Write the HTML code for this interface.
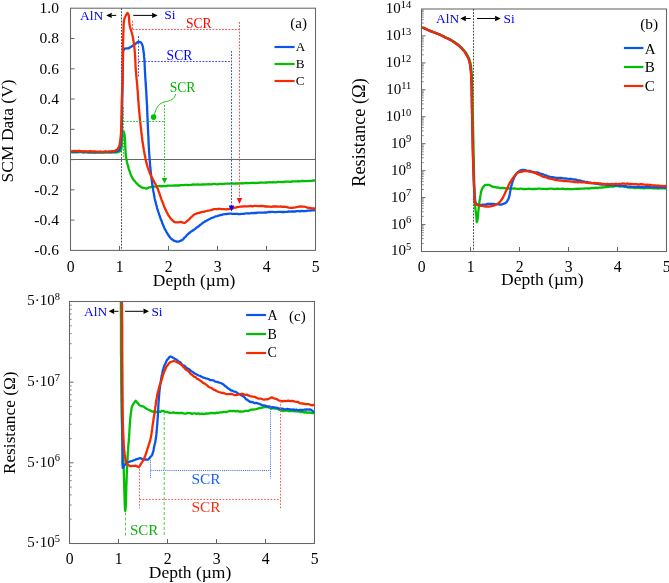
<!DOCTYPE html>
<html><head><meta charset="utf-8"><style>
html,body{margin:0;padding:0;background:#fff;}
svg{display:block;}
text{font-family:"Liberation Serif", serif;}
.g{will-change:transform;}
</style></head><body>
<svg width="669" height="583" viewBox="0 0 669 583">
<rect width="669" height="583" fill="#fff"/>
<g class="g">
<rect x="70.5" y="8.2" width="245.0" height="242.2" fill="none" stroke="#666666" stroke-width="1.05"/>
<text x="70.7" y="271.5" font-size="15.7" fill="#000" text-anchor="middle" >0</text>
<line x1="119.5" y1="250.4" x2="119.5" y2="245.9" stroke="#666666" stroke-width="1.0"/>
<text x="119.7" y="271.5" font-size="15.7" fill="#000" text-anchor="middle" >1</text>
<line x1="168.5" y1="250.4" x2="168.5" y2="245.9" stroke="#666666" stroke-width="1.0"/>
<text x="168.7" y="271.5" font-size="15.7" fill="#000" text-anchor="middle" >2</text>
<line x1="217.5" y1="250.4" x2="217.5" y2="245.9" stroke="#666666" stroke-width="1.0"/>
<text x="217.7" y="271.5" font-size="15.7" fill="#000" text-anchor="middle" >3</text>
<line x1="266.5" y1="250.4" x2="266.5" y2="245.9" stroke="#666666" stroke-width="1.0"/>
<text x="266.7" y="271.5" font-size="15.7" fill="#000" text-anchor="middle" >4</text>
<text x="315.7" y="271.5" font-size="15.7" fill="#000" text-anchor="middle" >5</text>
<text x="58.9" y="13.0" font-size="15.5" fill="#000" text-anchor="end" >1.0</text>
<line x1="70.5" y1="38.5" x2="74.5" y2="38.5" stroke="#666666" stroke-width="1.0"/>
<text x="58.9" y="43.3" font-size="15.5" fill="#000" text-anchor="end" >0.8</text>
<line x1="70.5" y1="68.8" x2="74.5" y2="68.8" stroke="#666666" stroke-width="1.0"/>
<text x="58.9" y="73.5" font-size="15.5" fill="#000" text-anchor="end" >0.6</text>
<line x1="70.5" y1="99.0" x2="74.5" y2="99.0" stroke="#666666" stroke-width="1.0"/>
<text x="58.9" y="103.8" font-size="15.5" fill="#000" text-anchor="end" >0.4</text>
<line x1="70.5" y1="129.3" x2="74.5" y2="129.3" stroke="#666666" stroke-width="1.0"/>
<text x="58.9" y="134.1" font-size="15.5" fill="#000" text-anchor="end" >0.2</text>
<line x1="70.5" y1="159.6" x2="74.5" y2="159.6" stroke="#666666" stroke-width="1.0"/>
<text x="58.9" y="164.4" font-size="15.5" fill="#000" text-anchor="end" >0.0</text>
<line x1="70.5" y1="189.8" x2="74.5" y2="189.8" stroke="#666666" stroke-width="1.0"/>
<text x="58.9" y="194.6" font-size="15.5" fill="#000" text-anchor="end" >-0.2</text>
<line x1="70.5" y1="220.1" x2="74.5" y2="220.1" stroke="#666666" stroke-width="1.0"/>
<text x="58.9" y="224.9" font-size="15.5" fill="#000" text-anchor="end" >-0.4</text>
<text x="58.9" y="255.2" font-size="15.5" fill="#000" text-anchor="end" >-0.6</text>
<line x1="70.5" y1="159.5" x2="315.5" y2="159.5" stroke="#666666" stroke-width="1.1"/>
<line x1="121.5" y1="8.2" x2="121.5" y2="250.4" stroke="#4a4a4a" stroke-width="1.0" stroke-dasharray="1.8 1.3"/>
<text x="194.1" y="286.0" font-size="17.5" fill="#000" text-anchor="middle" >Depth (µm)</text>
<text x="0.0" y="0.0" font-size="17.5" fill="#000" text-anchor="middle" transform="translate(12.9,130.9) rotate(-90)">SCM Data (V)</text>
<text x="80.0" y="19.5" font-size="13.5" fill="#0000ff" text-anchor="start" >AlN</text>
<line x1="116.2" y1="15.4" x2="111.7" y2="15.4" stroke="#000" stroke-width="1.0"/>
<polygon points="106.2,15.4 111.7,12.7 111.7,18.1" fill="#000"/>
<line x1="133.3" y1="15.4" x2="152.1" y2="15.4" stroke="#000" stroke-width="1.0"/>
<polygon points="157.6,15.4 152.1,12.7 152.1,18.1" fill="#000"/>
<text x="164.2" y="19.3" font-size="13.5" fill="#0000ff" text-anchor="start" >Si</text>
<text x="307.0" y="28.4" font-size="15" fill="#000" text-anchor="end" >(a)</text>
<line x1="274.5" y1="47.0" x2="294.6" y2="47.0" stroke="#0a55ea" stroke-width="2.2"/>
<text x="295.8" y="51.0" font-size="13.2" fill="#000" text-anchor="start" >A</text>
<line x1="274.5" y1="64.0" x2="294.6" y2="64.0" stroke="#00bf00" stroke-width="2.2"/>
<text x="295.8" y="68.1" font-size="13.2" fill="#000" text-anchor="start" >B</text>
<line x1="274.5" y1="81.0" x2="294.6" y2="81.0" stroke="#f42a00" stroke-width="2.2"/>
<text x="295.8" y="85.3" font-size="13.2" fill="#000" text-anchor="start" >C</text>
<rect x="421.5" y="9.0" width="245.0" height="242.5" fill="none" stroke="#666666" stroke-width="1.05"/>
<text x="421.7" y="271.5" font-size="15.7" fill="#000" text-anchor="middle" >0</text>
<line x1="470.5" y1="251.5" x2="470.5" y2="247.0" stroke="#666666" stroke-width="1.0"/>
<text x="470.7" y="271.5" font-size="15.7" fill="#000" text-anchor="middle" >1</text>
<line x1="519.5" y1="251.5" x2="519.5" y2="247.0" stroke="#666666" stroke-width="1.0"/>
<text x="519.7" y="271.5" font-size="15.7" fill="#000" text-anchor="middle" >2</text>
<line x1="568.5" y1="251.5" x2="568.5" y2="247.0" stroke="#666666" stroke-width="1.0"/>
<text x="568.7" y="271.5" font-size="15.7" fill="#000" text-anchor="middle" >3</text>
<line x1="617.5" y1="251.5" x2="617.5" y2="247.0" stroke="#666666" stroke-width="1.0"/>
<text x="617.7" y="271.5" font-size="15.7" fill="#000" text-anchor="middle" >4</text>
<text x="666.7" y="271.5" font-size="15.7" fill="#000" text-anchor="middle" >5</text>
<line x1="421.5" y1="243.4" x2="423.7" y2="243.4" stroke="#666666" stroke-width="0.8"/>
<line x1="421.5" y1="238.6" x2="423.7" y2="238.6" stroke="#666666" stroke-width="0.8"/>
<line x1="421.5" y1="235.3" x2="423.7" y2="235.3" stroke="#666666" stroke-width="0.8"/>
<line x1="421.5" y1="232.7" x2="423.7" y2="232.7" stroke="#666666" stroke-width="0.8"/>
<line x1="421.5" y1="230.5" x2="423.7" y2="230.5" stroke="#666666" stroke-width="0.8"/>
<line x1="421.5" y1="228.7" x2="423.7" y2="228.7" stroke="#666666" stroke-width="0.8"/>
<line x1="421.5" y1="227.2" x2="423.7" y2="227.2" stroke="#666666" stroke-width="0.8"/>
<line x1="421.5" y1="225.8" x2="423.7" y2="225.8" stroke="#666666" stroke-width="0.8"/>
<text x="411.3" y="255.4" font-size="15" text-anchor="end">10<tspan dy="-5.2" font-size="10.5">5</tspan></text>
<line x1="421.5" y1="224.6" x2="425.5" y2="224.6" stroke="#666666" stroke-width="1.0"/>
<line x1="421.5" y1="216.4" x2="423.7" y2="216.4" stroke="#666666" stroke-width="0.8"/>
<line x1="421.5" y1="211.7" x2="423.7" y2="211.7" stroke="#666666" stroke-width="0.8"/>
<line x1="421.5" y1="208.3" x2="423.7" y2="208.3" stroke="#666666" stroke-width="0.8"/>
<line x1="421.5" y1="205.7" x2="423.7" y2="205.7" stroke="#666666" stroke-width="0.8"/>
<line x1="421.5" y1="203.6" x2="423.7" y2="203.6" stroke="#666666" stroke-width="0.8"/>
<line x1="421.5" y1="201.8" x2="423.7" y2="201.8" stroke="#666666" stroke-width="0.8"/>
<line x1="421.5" y1="200.2" x2="423.7" y2="200.2" stroke="#666666" stroke-width="0.8"/>
<line x1="421.5" y1="198.8" x2="423.7" y2="198.8" stroke="#666666" stroke-width="0.8"/>
<text x="411.3" y="228.5" font-size="15" text-anchor="end">10<tspan dy="-5.2" font-size="10.5">6</tspan></text>
<line x1="421.5" y1="197.6" x2="425.5" y2="197.6" stroke="#666666" stroke-width="1.0"/>
<line x1="421.5" y1="189.5" x2="423.7" y2="189.5" stroke="#666666" stroke-width="0.8"/>
<line x1="421.5" y1="184.8" x2="423.7" y2="184.8" stroke="#666666" stroke-width="0.8"/>
<line x1="421.5" y1="181.4" x2="423.7" y2="181.4" stroke="#666666" stroke-width="0.8"/>
<line x1="421.5" y1="178.8" x2="423.7" y2="178.8" stroke="#666666" stroke-width="0.8"/>
<line x1="421.5" y1="176.6" x2="423.7" y2="176.6" stroke="#666666" stroke-width="0.8"/>
<line x1="421.5" y1="174.8" x2="423.7" y2="174.8" stroke="#666666" stroke-width="0.8"/>
<line x1="421.5" y1="173.3" x2="423.7" y2="173.3" stroke="#666666" stroke-width="0.8"/>
<line x1="421.5" y1="171.9" x2="423.7" y2="171.9" stroke="#666666" stroke-width="0.8"/>
<text x="411.3" y="201.5" font-size="15" text-anchor="end">10<tspan dy="-5.2" font-size="10.5">7</tspan></text>
<line x1="421.5" y1="170.7" x2="425.5" y2="170.7" stroke="#666666" stroke-width="1.0"/>
<line x1="421.5" y1="162.6" x2="423.7" y2="162.6" stroke="#666666" stroke-width="0.8"/>
<line x1="421.5" y1="157.8" x2="423.7" y2="157.8" stroke="#666666" stroke-width="0.8"/>
<line x1="421.5" y1="154.4" x2="423.7" y2="154.4" stroke="#666666" stroke-width="0.8"/>
<line x1="421.5" y1="151.8" x2="423.7" y2="151.8" stroke="#666666" stroke-width="0.8"/>
<line x1="421.5" y1="149.7" x2="423.7" y2="149.7" stroke="#666666" stroke-width="0.8"/>
<line x1="421.5" y1="147.9" x2="423.7" y2="147.9" stroke="#666666" stroke-width="0.8"/>
<line x1="421.5" y1="146.3" x2="423.7" y2="146.3" stroke="#666666" stroke-width="0.8"/>
<line x1="421.5" y1="145.0" x2="423.7" y2="145.0" stroke="#666666" stroke-width="0.8"/>
<text x="411.3" y="174.6" font-size="15" text-anchor="end">10<tspan dy="-5.2" font-size="10.5">8</tspan></text>
<line x1="421.5" y1="143.7" x2="425.5" y2="143.7" stroke="#666666" stroke-width="1.0"/>
<line x1="421.5" y1="135.6" x2="423.7" y2="135.6" stroke="#666666" stroke-width="0.8"/>
<line x1="421.5" y1="130.9" x2="423.7" y2="130.9" stroke="#666666" stroke-width="0.8"/>
<line x1="421.5" y1="127.5" x2="423.7" y2="127.5" stroke="#666666" stroke-width="0.8"/>
<line x1="421.5" y1="124.9" x2="423.7" y2="124.9" stroke="#666666" stroke-width="0.8"/>
<line x1="421.5" y1="122.8" x2="423.7" y2="122.8" stroke="#666666" stroke-width="0.8"/>
<line x1="421.5" y1="121.0" x2="423.7" y2="121.0" stroke="#666666" stroke-width="0.8"/>
<line x1="421.5" y1="119.4" x2="423.7" y2="119.4" stroke="#666666" stroke-width="0.8"/>
<line x1="421.5" y1="118.0" x2="423.7" y2="118.0" stroke="#666666" stroke-width="0.8"/>
<text x="411.3" y="147.6" font-size="15" text-anchor="end">10<tspan dy="-5.2" font-size="10.5">9</tspan></text>
<line x1="421.5" y1="116.8" x2="425.5" y2="116.8" stroke="#666666" stroke-width="1.0"/>
<line x1="421.5" y1="108.7" x2="423.7" y2="108.7" stroke="#666666" stroke-width="0.8"/>
<line x1="421.5" y1="103.9" x2="423.7" y2="103.9" stroke="#666666" stroke-width="0.8"/>
<line x1="421.5" y1="100.6" x2="423.7" y2="100.6" stroke="#666666" stroke-width="0.8"/>
<line x1="421.5" y1="97.9" x2="423.7" y2="97.9" stroke="#666666" stroke-width="0.8"/>
<line x1="421.5" y1="95.8" x2="423.7" y2="95.8" stroke="#666666" stroke-width="0.8"/>
<line x1="421.5" y1="94.0" x2="423.7" y2="94.0" stroke="#666666" stroke-width="0.8"/>
<line x1="421.5" y1="92.4" x2="423.7" y2="92.4" stroke="#666666" stroke-width="0.8"/>
<line x1="421.5" y1="91.1" x2="423.7" y2="91.1" stroke="#666666" stroke-width="0.8"/>
<text x="411.3" y="120.7" font-size="15" text-anchor="end">10<tspan dy="-5.2" font-size="10.5">10</tspan></text>
<line x1="421.5" y1="89.8" x2="425.5" y2="89.8" stroke="#666666" stroke-width="1.0"/>
<line x1="421.5" y1="81.7" x2="423.7" y2="81.7" stroke="#666666" stroke-width="0.8"/>
<line x1="421.5" y1="77.0" x2="423.7" y2="77.0" stroke="#666666" stroke-width="0.8"/>
<line x1="421.5" y1="73.6" x2="423.7" y2="73.6" stroke="#666666" stroke-width="0.8"/>
<line x1="421.5" y1="71.0" x2="423.7" y2="71.0" stroke="#666666" stroke-width="0.8"/>
<line x1="421.5" y1="68.9" x2="423.7" y2="68.9" stroke="#666666" stroke-width="0.8"/>
<line x1="421.5" y1="67.1" x2="423.7" y2="67.1" stroke="#666666" stroke-width="0.8"/>
<line x1="421.5" y1="65.5" x2="423.7" y2="65.5" stroke="#666666" stroke-width="0.8"/>
<line x1="421.5" y1="64.1" x2="423.7" y2="64.1" stroke="#666666" stroke-width="0.8"/>
<text x="411.3" y="93.7" font-size="15" text-anchor="end">10<tspan dy="-5.2" font-size="10.5">11</tspan></text>
<line x1="421.5" y1="62.9" x2="425.5" y2="62.9" stroke="#666666" stroke-width="1.0"/>
<line x1="421.5" y1="54.8" x2="423.7" y2="54.8" stroke="#666666" stroke-width="0.8"/>
<line x1="421.5" y1="50.0" x2="423.7" y2="50.0" stroke="#666666" stroke-width="0.8"/>
<line x1="421.5" y1="46.7" x2="423.7" y2="46.7" stroke="#666666" stroke-width="0.8"/>
<line x1="421.5" y1="44.1" x2="423.7" y2="44.1" stroke="#666666" stroke-width="0.8"/>
<line x1="421.5" y1="41.9" x2="423.7" y2="41.9" stroke="#666666" stroke-width="0.8"/>
<line x1="421.5" y1="40.1" x2="423.7" y2="40.1" stroke="#666666" stroke-width="0.8"/>
<line x1="421.5" y1="38.6" x2="423.7" y2="38.6" stroke="#666666" stroke-width="0.8"/>
<line x1="421.5" y1="37.2" x2="423.7" y2="37.2" stroke="#666666" stroke-width="0.8"/>
<text x="411.3" y="66.8" font-size="15" text-anchor="end">10<tspan dy="-5.2" font-size="10.5">12</tspan></text>
<line x1="421.5" y1="35.9" x2="425.5" y2="35.9" stroke="#666666" stroke-width="1.0"/>
<line x1="421.5" y1="27.8" x2="423.7" y2="27.8" stroke="#666666" stroke-width="0.8"/>
<line x1="421.5" y1="23.1" x2="423.7" y2="23.1" stroke="#666666" stroke-width="0.8"/>
<line x1="421.5" y1="19.7" x2="423.7" y2="19.7" stroke="#666666" stroke-width="0.8"/>
<line x1="421.5" y1="17.1" x2="423.7" y2="17.1" stroke="#666666" stroke-width="0.8"/>
<line x1="421.5" y1="15.0" x2="423.7" y2="15.0" stroke="#666666" stroke-width="0.8"/>
<line x1="421.5" y1="13.2" x2="423.7" y2="13.2" stroke="#666666" stroke-width="0.8"/>
<line x1="421.5" y1="11.6" x2="423.7" y2="11.6" stroke="#666666" stroke-width="0.8"/>
<line x1="421.5" y1="10.2" x2="423.7" y2="10.2" stroke="#666666" stroke-width="0.8"/>
<text x="411.3" y="39.8" font-size="15" text-anchor="end">10<tspan dy="-5.2" font-size="10.5">13</tspan></text>
<text x="411.3" y="12.9" font-size="15" text-anchor="end">10<tspan dy="-5.2" font-size="10.5">14</tspan></text>
<text x="542.3" y="285.3" font-size="17.5" fill="#000" text-anchor="middle" >Depth (µm)</text>
<text x="0.0" y="0.0" font-size="18.3" fill="#000" text-anchor="middle" transform="translate(365.3,132.5) rotate(-90)">Resistance (Ω)</text>
<line x1="473.5" y1="9.0" x2="473.5" y2="251.5" stroke="#4a4a4a" stroke-width="1.0" stroke-dasharray="1.8 1.3"/>
<text x="436.0" y="23.3" font-size="13.4" fill="#0000ff" text-anchor="start" >AlN</text>
<line x1="470.6" y1="18.5" x2="465.8" y2="18.5" stroke="#000" stroke-width="1.0"/>
<polygon points="460.3,18.5 465.8,15.8 465.8,21.2" fill="#000"/>
<line x1="477.0" y1="18.5" x2="495.1" y2="18.5" stroke="#000" stroke-width="1.0"/>
<polygon points="500.6,18.5 495.1,15.8 495.1,21.2" fill="#000"/>
<text x="503.5" y="23.3" font-size="13.4" fill="#0000ff" text-anchor="start" >Si</text>
<text x="658.2" y="28.5" font-size="15.4" fill="#000" text-anchor="end" >(b)</text>
<line x1="623.9" y1="48.0" x2="643.4" y2="48.0" stroke="#0a55ea" stroke-width="2.2"/>
<text x="644.8" y="53.5" font-size="15" fill="#000" text-anchor="start" >A</text>
<line x1="623.9" y1="67.0" x2="643.4" y2="67.0" stroke="#00bf00" stroke-width="2.2"/>
<text x="644.8" y="72.2" font-size="15" fill="#000" text-anchor="start" >B</text>
<line x1="623.9" y1="86.0" x2="643.4" y2="86.0" stroke="#f42a00" stroke-width="2.2"/>
<text x="644.8" y="91.3" font-size="15" fill="#000" text-anchor="start" >C</text>
<rect x="69.5" y="301.5" width="245.0" height="242.0" fill="none" stroke="#666666" stroke-width="1.05"/>
<text x="69.7" y="563.5" font-size="15.7" fill="#000" text-anchor="middle" >0</text>
<line x1="118.5" y1="543.5" x2="118.5" y2="539.0" stroke="#666666" stroke-width="1.0"/>
<text x="118.7" y="563.5" font-size="15.7" fill="#000" text-anchor="middle" >1</text>
<line x1="167.5" y1="543.5" x2="167.5" y2="539.0" stroke="#666666" stroke-width="1.0"/>
<text x="167.7" y="563.5" font-size="15.7" fill="#000" text-anchor="middle" >2</text>
<line x1="216.5" y1="543.5" x2="216.5" y2="539.0" stroke="#666666" stroke-width="1.0"/>
<text x="216.7" y="563.5" font-size="15.7" fill="#000" text-anchor="middle" >3</text>
<line x1="265.5" y1="543.5" x2="265.5" y2="539.0" stroke="#666666" stroke-width="1.0"/>
<text x="265.7" y="563.5" font-size="15.7" fill="#000" text-anchor="middle" >4</text>
<text x="314.7" y="563.5" font-size="15.7" fill="#000" text-anchor="middle" >5</text>
<line x1="69.5" y1="519.2" x2="71.7" y2="519.2" stroke="#666666" stroke-width="0.8"/>
<line x1="69.5" y1="505.0" x2="71.7" y2="505.0" stroke="#666666" stroke-width="0.8"/>
<line x1="69.5" y1="494.9" x2="71.7" y2="494.9" stroke="#666666" stroke-width="0.8"/>
<line x1="69.5" y1="487.1" x2="71.7" y2="487.1" stroke="#666666" stroke-width="0.8"/>
<line x1="69.5" y1="480.7" x2="71.7" y2="480.7" stroke="#666666" stroke-width="0.8"/>
<line x1="69.5" y1="475.3" x2="71.7" y2="475.3" stroke="#666666" stroke-width="0.8"/>
<line x1="69.5" y1="470.7" x2="71.7" y2="470.7" stroke="#666666" stroke-width="0.8"/>
<line x1="69.5" y1="466.5" x2="71.7" y2="466.5" stroke="#666666" stroke-width="0.8"/>
<text x="60.0" y="547.3" font-size="15" text-anchor="end">5·10<tspan dy="-5.2" font-size="10.5">5</tspan></text>
<line x1="69.5" y1="462.8" x2="73.5" y2="462.8" stroke="#666666" stroke-width="1.0"/>
<line x1="69.5" y1="438.6" x2="71.7" y2="438.6" stroke="#666666" stroke-width="0.8"/>
<line x1="69.5" y1="424.3" x2="71.7" y2="424.3" stroke="#666666" stroke-width="0.8"/>
<line x1="69.5" y1="414.3" x2="71.7" y2="414.3" stroke="#666666" stroke-width="0.8"/>
<line x1="69.5" y1="406.4" x2="71.7" y2="406.4" stroke="#666666" stroke-width="0.8"/>
<line x1="69.5" y1="400.1" x2="71.7" y2="400.1" stroke="#666666" stroke-width="0.8"/>
<line x1="69.5" y1="394.7" x2="71.7" y2="394.7" stroke="#666666" stroke-width="0.8"/>
<line x1="69.5" y1="390.0" x2="71.7" y2="390.0" stroke="#666666" stroke-width="0.8"/>
<line x1="69.5" y1="385.9" x2="71.7" y2="385.9" stroke="#666666" stroke-width="0.8"/>
<text x="60.0" y="466.6" font-size="15" text-anchor="end">5·10<tspan dy="-5.2" font-size="10.5">6</tspan></text>
<line x1="69.5" y1="382.2" x2="73.5" y2="382.2" stroke="#666666" stroke-width="1.0"/>
<line x1="69.5" y1="357.9" x2="71.7" y2="357.9" stroke="#666666" stroke-width="0.8"/>
<line x1="69.5" y1="343.7" x2="71.7" y2="343.7" stroke="#666666" stroke-width="0.8"/>
<line x1="69.5" y1="333.6" x2="71.7" y2="333.6" stroke="#666666" stroke-width="0.8"/>
<line x1="69.5" y1="325.8" x2="71.7" y2="325.8" stroke="#666666" stroke-width="0.8"/>
<line x1="69.5" y1="319.4" x2="71.7" y2="319.4" stroke="#666666" stroke-width="0.8"/>
<line x1="69.5" y1="314.0" x2="71.7" y2="314.0" stroke="#666666" stroke-width="0.8"/>
<line x1="69.5" y1="309.3" x2="71.7" y2="309.3" stroke="#666666" stroke-width="0.8"/>
<line x1="69.5" y1="305.2" x2="71.7" y2="305.2" stroke="#666666" stroke-width="0.8"/>
<text x="60.0" y="386.0" font-size="15" text-anchor="end">5·10<tspan dy="-5.2" font-size="10.5">7</tspan></text>
<text x="60.0" y="305.3" font-size="15" text-anchor="end">5·10<tspan dy="-5.2" font-size="10.5">8</tspan></text>
<text x="190.0" y="578.0" font-size="17.5" fill="#000" text-anchor="middle" >Depth (µm)</text>
<text x="0.0" y="0.0" font-size="17.3" fill="#000" text-anchor="middle" transform="translate(14.6,422.8) rotate(-90)">Resistance (Ω)</text>
<text x="84.0" y="315.7" font-size="13.4" fill="#0000ff" text-anchor="start" >AlN</text>
<line x1="118.5" y1="311.3" x2="114.2" y2="311.3" stroke="#000" stroke-width="1.0"/>
<polygon points="108.7,311.3 114.2,308.6 114.2,314.0" fill="#000"/>
<line x1="125.0" y1="311.3" x2="143.5" y2="311.3" stroke="#000" stroke-width="1.0"/>
<polygon points="149.0,311.3 143.5,308.6 143.5,314.0" fill="#000"/>
<text x="151.4" y="315.7" font-size="13.4" fill="#0000ff" text-anchor="start" >Si</text>
<line x1="246.1" y1="315.0" x2="266.1" y2="315.0" stroke="#0a55ea" stroke-width="2.2"/>
<text x="267.6" y="319.9" font-size="14" fill="#000" text-anchor="start" >A</text>
<line x1="246.1" y1="334.0" x2="266.1" y2="334.0" stroke="#00bf00" stroke-width="2.2"/>
<text x="267.6" y="338.7" font-size="14" fill="#000" text-anchor="start" >B</text>
<line x1="246.1" y1="353.0" x2="266.1" y2="353.0" stroke="#f42a00" stroke-width="2.2"/>
<text x="267.6" y="356.9" font-size="14" fill="#000" text-anchor="start" >C</text>
<text x="305.7" y="320.9" font-size="15" fill="#000" text-anchor="end" >(c)</text>
<polyline points="71.2,152.2 72.8,152.3 74.4,152.2 76.0,152.4 77.7,152.4 79.4,152.1 81.2,152.1 83.0,152.5 84.8,152.2 86.6,152.2 88.4,152.6 90.1,152.4 91.9,152.5 93.7,152.4 95.4,152.5 97.2,152.2 98.8,152.5 100.5,152.6 102.1,152.4 103.6,152.5 105.1,152.5 106.5,152.2 107.8,152.5 109.1,152.4 110.3,152.3 111.4,152.1 112.3,152.5 113.2,152.3 114.0,152.4 116.3,152.5 118.0,152.1 119.6,151.5 120.9,149.9 121.4,148.9 121.6,147.1 121.8,145.5 121.8,143.6 121.9,141.4 122.0,139.8 122.2,138.0 122.3,136.8 122.5,135.0 122.8,132.6 123.3,130.9 124.0,132.0 124.3,133.4 124.6,135.3 124.8,137.7 124.9,139.0 125.0,140.5 125.1,141.9 125.2,143.7 125.2,145.3 125.3,147.2 125.4,148.8 125.5,150.3 125.6,152.3 125.7,154.0 125.8,155.5 126.0,156.6 126.3,158.6 126.6,160.1 126.9,162.0 127.3,163.5 127.8,165.1 128.2,166.4 128.6,168.3 129.1,170.0 129.6,171.1 130.2,173.1 130.7,174.4 131.3,175.7 132.0,177.1 132.9,178.9 133.9,180.4 135.0,181.4 136.1,182.9 137.2,183.8 138.4,185.2 139.7,186.0 141.1,187.1 142.3,187.7 144.2,188.0 145.8,188.5 146.9,188.5 149.2,187.3 150.4,187.3 151.9,186.7 153.5,186.6 155.3,186.5 157.2,186.5 158.5,186.1 159.9,186.0 161.4,186.3 162.9,185.9 164.5,186.2 166.2,186.0 167.8,185.7 169.5,185.7 171.1,185.7 172.7,185.6 174.3,185.5 175.9,185.5 177.4,185.4 179.0,185.5 180.6,185.2 182.1,185.1 183.7,185.2 185.2,184.9 186.8,184.9 188.4,185.2 189.9,184.9 191.5,184.8 193.1,184.5 194.6,184.7 196.2,184.7 197.7,184.4 199.3,184.6 200.8,184.6 202.4,184.3 203.9,184.5 205.5,184.4 207.0,184.4 208.6,184.2 210.1,184.4 211.7,184.3 213.2,183.9 214.7,183.9 216.2,184.2 217.7,184.3 219.2,183.9 220.8,183.9 222.4,183.9 224.1,183.8 225.8,183.7 227.1,183.7 228.5,183.7 229.9,183.7 231.3,183.5 232.7,183.5 234.2,183.7 235.7,183.3 237.2,183.5 238.7,183.5 240.2,183.3 241.7,183.2 243.3,183.4 244.9,183.1 246.4,183.0 248.0,183.1 249.6,183.2 251.2,182.8 252.7,182.9 254.3,182.8 255.8,183.0 257.3,182.8 258.9,182.9 260.4,182.5 262.0,182.6 263.5,182.7 265.1,182.7 266.7,182.5 268.3,182.3 269.9,182.2 271.5,182.3 273.1,182.1 274.7,182.4 276.3,182.3 277.9,181.9 279.5,181.9 281.0,182.1 282.6,182.0 284.1,182.0 285.6,181.7 287.1,181.6 288.6,181.6 290.2,181.8 291.9,181.5 293.5,181.4 295.0,181.4 296.6,181.3 298.2,181.2 299.7,181.4 301.3,181.0 302.8,180.8 304.3,181.2 305.8,181.1 307.3,181.1 308.9,180.8 310.4,180.9 311.9,180.9 313.5,180.4 315.0,180.6" fill="none" stroke="#00bf00" stroke-width="2.3" stroke-linejoin="round" stroke-linecap="butt"/>
<polyline points="71.2,152.0 72.8,151.9 74.4,151.8 76.0,151.7 77.8,151.8 79.5,151.7 81.3,151.7 83.1,152.0 84.9,151.8 86.7,152.1 88.5,151.8 90.4,152.2 92.2,152.1 94.0,152.3 95.7,152.3 97.5,152.3 99.1,152.2 100.8,151.9 102.4,152.3 103.9,152.0 105.4,152.0 106.8,152.2 108.1,152.1 109.4,152.0 110.5,152.3 111.5,152.1 112.5,151.9 113.3,151.8 114.0,152.0 115.8,151.4 117.0,151.1 119.2,149.9 120.0,148.2 120.5,146.0 120.7,144.9 120.9,143.3 121.0,142.1 121.2,140.7 121.3,138.9 121.4,137.1 121.5,134.8 121.6,133.9 121.6,132.9 121.7,131.2 121.7,130.0 121.8,128.6 121.8,127.3 121.8,125.8 121.9,124.4 121.9,123.0 121.9,121.0 122.0,119.5 122.0,117.9 122.0,116.2 122.1,114.6 122.1,113.4 122.1,111.6 122.1,109.6 122.2,108.1 122.2,106.4 122.2,104.7 122.2,103.1 122.3,101.7 122.3,100.0 122.3,98.4 122.4,96.8 122.4,95.3 122.4,93.5 122.4,92.1 122.5,90.5 122.5,88.7 122.5,86.8 122.5,85.1 122.6,83.5 122.6,81.9 122.6,80.3 122.6,78.4 122.7,77.0 122.7,75.2 122.7,73.5 122.7,71.9 122.8,70.4 122.8,69.0 122.8,67.4 122.8,66.2 122.9,64.7 122.9,63.3 122.9,62.2 123.0,61.2 123.0,59.8 123.0,57.8 123.0,55.8 123.0,54.2 123.1,52.6 123.2,51.0 123.5,50.2 124.7,48.6 126.5,48.3 128.7,48.3 130.2,47.3 131.6,46.5 133.0,45.4 134.6,44.5 136.0,43.4 137.3,42.3 138.4,41.6 139.8,42.0 141.2,42.6 142.5,45.5 142.9,46.8 143.1,48.5 143.4,50.6 143.6,51.7 143.8,53.3 144.0,54.9 144.1,56.9 144.3,58.3 144.4,59.6 144.5,61.4 144.6,62.6 144.6,64.4 144.7,65.9 144.8,67.6 144.8,69.2 144.9,70.5 145.0,72.1 145.1,73.4 145.2,75.4 145.3,77.0 145.4,78.7 145.5,80.1 145.6,82.0 145.7,83.7 145.8,84.8 145.9,86.6 146.0,88.4 146.1,90.1 146.2,91.4 146.3,93.1 146.4,94.9 146.5,96.4 146.6,97.9 146.6,99.2 146.7,100.7 146.8,102.3 146.9,103.8 147.0,105.4 147.1,106.7 147.1,108.5 147.2,110.2 147.3,111.5 147.3,113.1 147.4,114.3 147.4,116.1 147.5,117.6 147.6,119.1 147.6,120.5 147.7,122.0 147.7,123.6 147.8,125.2 147.9,126.3 147.9,127.8 148.0,129.6 148.1,131.2 148.1,132.5 148.2,134.0 148.3,135.6 148.4,136.8 148.4,138.4 148.5,139.8 148.6,141.6 148.6,142.9 148.7,144.4 148.8,146.2 148.9,147.8 149.0,149.0 149.0,150.7 149.1,152.1 149.2,153.7 149.3,155.0 149.4,156.4 149.5,157.9 149.6,159.3 149.8,161.0 149.9,162.4 150.0,163.8 150.1,165.4 150.3,166.9 150.4,168.6 150.6,169.7 150.7,171.6 150.9,172.8 151.0,174.3 151.2,175.8 151.4,177.5 151.6,179.0 151.8,180.4 152.0,182.0 152.2,183.5 152.4,185.1 152.6,186.3 152.9,188.0 153.1,189.6 153.3,190.9 153.6,192.3 153.9,193.9 154.1,195.6 154.4,197.1 154.7,198.8 155.1,200.2 155.4,201.4 155.8,203.0 156.2,204.6 156.7,206.2 157.1,208.1 157.6,209.7 158.1,211.3 158.6,212.6 159.1,214.4 159.6,215.6 160.1,217.1 160.6,218.7 161.2,220.0 161.8,221.6 162.4,223.6 163.0,224.8 163.7,226.4 164.3,227.9 165.0,229.4 165.7,230.4 166.5,232.0 167.3,233.4 168.1,234.8 169.0,236.0 169.9,237.3 170.9,238.5 172.3,239.5 173.8,240.6 175.4,241.2 176.9,241.7 178.6,241.7 180.3,240.8 182.0,240.2 183.2,239.3 184.4,237.7 185.6,236.8 186.8,235.1 188.0,234.1 189.3,233.0 190.7,231.8 192.1,231.0 193.5,230.0 194.9,229.1 196.3,227.8 197.6,227.0 199.0,226.0 200.3,224.9 201.7,223.8 203.0,222.7 204.4,222.0 205.7,221.0 207.1,220.4 208.6,219.6 209.9,218.9 211.3,218.0 212.7,217.7 214.2,217.1 215.7,216.3 217.2,216.2 218.6,215.7 220.1,215.0 221.7,215.0 223.3,214.3 224.8,214.1 226.4,214.0 227.8,213.8 229.2,213.6 231.0,213.7 232.5,213.8 234.1,213.9 236.0,213.9 237.2,213.9 238.5,214.2 240.0,214.1 241.5,213.9 243.0,213.9 244.6,213.6 246.3,213.4 247.9,213.4 249.6,213.5 251.2,213.0 252.8,213.1 254.3,212.9 255.9,213.0 257.5,212.7 259.0,212.6 260.6,212.6 262.2,212.6 263.7,212.6 265.3,212.3 266.8,212.5 268.4,212.0 269.9,212.0 271.5,211.9 273.1,211.9 274.6,212.1 276.2,212.1 277.7,211.8 279.3,211.8 280.8,211.8 282.4,212.0 283.9,212.0 285.5,211.9 287.0,211.8 288.6,211.5 290.2,211.6 291.8,211.4 293.4,211.5 295.1,211.5 296.7,211.2 298.3,211.2 299.9,211.4 301.5,210.9 303.0,211.2 304.4,211.2 305.8,211.1 307.5,210.7 309.1,210.6 310.6,210.5 312.0,210.4 313.5,210.4 315.0,210.1" fill="none" stroke="#0a55ea" stroke-width="2.3" stroke-linejoin="round" stroke-linecap="butt"/>
<polyline points="71.2,150.9 72.8,151.2 74.4,151.0 76.0,151.1 77.8,151.2 79.5,150.9 81.3,151.3 83.1,151.3 84.9,151.2 86.7,151.3 88.5,151.3 90.4,151.2 92.2,151.5 94.0,151.3 95.7,151.5 97.5,151.6 99.2,151.6 100.8,151.6 102.4,151.8 104.0,151.8 105.4,151.4 106.8,151.7 108.1,151.6 109.4,151.3 110.5,151.4 111.6,151.2 112.5,151.0 113.3,151.2 114.0,151.2 115.8,150.3 117.0,149.7 118.2,148.2 119.2,146.1 119.6,145.1 119.9,143.3 120.1,141.8 120.3,140.1 120.5,138.4 120.7,136.5 120.9,134.5 121.0,133.5 121.0,132.4 121.1,131.0 121.1,129.8 121.2,128.3 121.2,126.6 121.2,125.0 121.3,123.4 121.3,121.7 121.4,120.0 121.4,118.4 121.4,116.7 121.5,114.8 121.5,113.0 121.5,111.3 121.6,109.4 121.6,107.7 121.6,106.2 121.7,104.4 121.7,102.7 121.8,101.6 121.8,100.1 121.9,98.2 121.9,96.6 122.0,95.1 122.1,93.7 122.1,92.0 122.2,90.5 122.3,89.2 122.3,88.0 122.4,86.2 122.4,84.9 122.5,83.2 122.6,81.6 122.6,79.8 122.6,78.6 122.7,77.1 122.7,75.5 122.7,74.1 122.7,72.5 122.7,71.1 122.8,69.3 122.8,67.6 122.8,66.2 122.8,64.5 122.8,62.9 122.8,60.9 122.8,59.5 122.9,57.8 122.9,56.0 122.9,54.9 122.9,53.0 122.9,51.4 122.9,50.1 122.9,48.6 123.0,47.5 123.0,46.1 123.0,44.8 123.0,42.9 123.1,41.5 123.1,39.7 123.2,38.4 123.2,36.8 123.3,35.6 123.3,33.9 123.4,32.4 123.5,30.5 123.5,28.9 123.6,27.0 123.6,25.1 123.7,23.4 123.8,22.3 124.0,20.6 124.3,19.0 125.0,17.4 126.0,15.1 127.5,13.0 128.6,14.6 128.9,16.4 129.1,18.5 129.2,20.6 129.3,22.6 129.5,24.1 129.9,26.5 130.4,28.3 131.1,30.5 131.8,32.7 132.2,34.5 132.6,35.9 133.0,37.9 133.3,39.8 133.6,41.7 133.9,43.2 134.1,44.7 134.2,46.5 134.4,47.7 134.6,49.6 134.7,51.3 134.9,53.2 135.0,55.1 135.1,56.2 135.2,57.9 135.3,59.4 135.3,61.0 135.4,62.4 135.5,64.1 135.5,65.4 135.6,67.0 135.7,68.4 135.8,70.1 135.9,71.5 136.1,72.9 136.2,74.3 136.3,76.0 136.5,77.4 136.6,78.9 136.8,80.3 136.9,82.0 137.1,83.5 137.2,85.1 137.3,86.1 137.4,87.8 137.5,89.4 137.7,90.9 137.8,92.1 137.9,93.8 138.0,95.7 138.1,97.2 138.2,98.9 138.3,100.5 138.5,102.0 138.6,103.8 138.7,105.3 138.8,106.7 138.9,108.2 139.1,109.5 139.2,111.1 139.4,113.1 139.5,114.4 139.7,116.2 139.8,117.6 140.0,119.2 140.1,121.1 140.3,122.5 140.5,124.0 140.6,125.6 140.8,127.3 141.0,128.8 141.1,130.0 141.3,131.6 141.5,133.5 141.7,134.7 141.9,136.5 142.1,137.9 142.2,139.6 142.4,141.0 142.6,142.6 142.9,143.9 143.1,145.2 143.3,146.6 143.6,148.3 143.9,150.4 144.2,151.8 144.5,153.5 144.8,155.6 145.2,156.9 145.5,158.7 145.8,159.8 146.2,161.9 146.7,163.6 147.2,165.6 147.7,167.3 148.3,168.9 148.9,170.7 149.5,172.5 150.2,173.9 150.9,175.6 151.6,176.9 152.3,178.0 153.0,179.7 153.7,180.9 154.4,182.3 155.1,183.3 155.8,184.8 156.5,186.1 157.2,187.8 157.8,188.8 158.3,190.4 158.9,192.0 159.4,193.3 160.0,195.2 160.6,196.9 161.1,198.4 161.7,200.1 162.3,201.6 162.9,202.9 163.5,204.6 164.1,206.5 164.7,207.7 165.4,209.3 166.0,210.6 166.7,212.1 167.4,213.3 168.4,215.3 169.4,216.7 170.5,218.2 171.6,219.5 172.6,220.4 174.2,221.9 176.0,222.4 177.7,222.3 179.5,222.1 181.2,221.9 182.8,222.6 184.3,222.9 185.6,222.5 186.9,221.2 188.3,220.1 189.7,218.8 190.9,217.4 192.1,216.6 193.4,215.1 194.9,214.1 196.2,213.8 197.5,213.1 199.0,212.8 200.6,212.5 202.1,211.9 203.7,211.9 205.2,211.3 206.6,211.0 208.1,210.6 209.5,210.4 210.9,210.1 212.4,209.6 213.9,209.2 215.5,209.1 217.0,209.0 218.7,208.8 220.4,208.8 222.1,209.1 223.9,209.1 225.6,209.3 227.2,209.2 228.8,209.1 230.3,208.7 232.1,208.3 233.8,208.0 235.4,207.6 237.1,207.2 238.9,206.8 240.3,206.6 241.7,206.7 243.2,206.3 244.7,206.3 246.3,206.4 247.9,206.3 249.5,206.1 251.1,206.0 252.7,206.3 254.3,205.9 255.8,205.9 257.4,206.1 259.0,206.2 260.6,206.0 262.2,206.0 263.8,206.2 265.3,206.5 266.9,206.4 268.5,206.7 270.0,206.7 271.5,206.8 273.1,206.4 274.7,206.5 276.4,206.4 278.0,206.6 279.5,206.6 281.0,206.5 282.5,206.8 283.9,206.6 285.2,206.8 287.1,207.1 288.7,207.7 290.3,207.8 292.0,207.9 293.7,207.6 295.4,207.4 297.2,207.0 298.9,206.6 300.6,206.5 302.4,206.6 304.1,206.6 305.8,207.0 307.5,207.6 309.0,207.9 310.5,208.0 312.0,208.4 313.5,208.5 315.0,208.6" fill="none" stroke="#f42a00" stroke-width="2.3" stroke-linejoin="round" stroke-linecap="butt"/>
<polyline points="422.8,27.3 424.4,27.9 426.0,28.9 427.7,29.7 429.3,30.4 431.0,30.9 432.4,31.6 433.9,32.3 435.3,32.8 436.8,33.3 438.3,33.9 439.8,34.6 441.3,35.0 442.8,35.7 444.3,36.7 445.8,37.5 447.3,38.0 448.8,38.7 450.2,39.4 451.6,40.3 453.1,41.4 454.6,42.1 456.1,43.4 457.5,44.0 458.9,45.1 460.2,46.3 461.3,47.3 462.4,48.7 463.5,49.8 464.4,51.0 465.4,52.1 466.2,53.0 467.0,54.5 467.8,55.9 468.5,57.2 469.1,58.4 469.6,60.1 470.1,61.8 470.5,63.0 470.8,65.0 471.0,66.6 471.3,68.6 471.4,70.1 471.6,71.6 471.7,73.0 471.8,74.3 471.9,76.3 471.9,77.6 472.0,79.4 472.0,81.2 472.1,82.6 472.1,84.2 472.2,86.0 472.3,87.6 472.3,88.8 472.3,90.2 472.4,91.6 472.4,92.9 472.4,94.5 472.4,96.5 472.5,97.8 472.5,99.9 472.5,100.9 472.5,101.9 472.6,103.3 472.6,104.6 472.6,105.9 472.6,107.1 472.7,108.6 472.7,109.6 472.7,111.2 472.8,113.0 472.8,114.1 472.8,115.7 472.9,117.4 472.9,118.9 472.9,120.7 473.0,122.1 473.0,123.8 473.0,125.8 473.1,127.1 473.1,129.2 473.1,130.5 473.2,132.6 473.2,134.2 473.2,135.9 473.3,137.3 473.3,138.9 473.4,140.9 473.4,142.3 473.4,143.9 473.5,145.9 473.5,147.5 473.5,148.6 473.6,150.6 473.6,151.9 473.6,153.2 473.6,154.5 473.7,156.0 473.7,157.6 473.7,159.1 473.8,160.7 473.8,162.5 473.8,164.2 473.9,166.0 473.9,168.0 473.9,169.2 474.0,170.9 474.0,172.9 474.0,174.5 474.1,176.1 474.1,177.3 474.1,178.8 474.2,180.6 474.2,181.9 474.2,183.4 474.3,184.6 474.3,185.8 474.3,187.3 474.4,188.9 474.4,190.1 474.5,191.8 474.5,193.4 474.5,195.0 474.6,196.5 474.6,198.1 474.7,199.7 474.7,200.8 474.8,202.3 474.9,203.9 475.0,205.2 475.2,206.6 475.4,208.8 475.6,210.4 475.8,211.7 476.0,213.3 476.2,214.9 476.4,216.9 476.5,219.7 476.7,221.2 476.9,222.2 477.4,220.4 477.8,217.8 478.0,216.8 478.1,215.2 478.2,213.7 478.3,211.8 478.5,210.0 478.7,208.7 478.8,206.8 479.0,205.5 479.2,203.8 479.4,202.0 479.6,200.7 479.9,199.0 480.1,197.6 480.4,195.9 480.7,194.2 480.9,192.5 481.3,191.1 481.7,189.9 482.2,188.6 483.1,187.1 484.2,185.9 485.3,184.8 487.7,184.9 489.0,184.9 490.4,185.5 491.9,186.4 493.5,187.0 495.0,187.1 496.5,187.5 498.1,187.5 499.8,188.0 501.7,187.9 503.0,188.0 504.4,188.1 505.8,188.4 507.4,188.5 509.0,188.4 510.7,188.4 512.4,188.6 514.1,188.3 515.8,188.6 517.5,188.8 519.1,188.9 520.7,188.5 522.3,189.0 523.9,188.8 525.5,189.1 527.1,188.8 528.6,188.7 530.1,188.9 531.7,189.0 533.2,188.8 534.8,189.0 536.5,188.9 538.2,188.7 540.0,188.7 541.3,188.8 542.7,188.8 544.1,188.8 545.5,188.9 546.9,189.0 548.4,188.9 550.0,188.7 551.5,188.7 553.0,188.8 554.6,189.0 556.2,188.8 557.8,188.7 559.3,188.9 560.9,188.9 562.5,188.7 564.1,189.0 565.6,189.2 567.1,189.0 568.7,189.1 570.1,189.1 571.6,189.1 573.2,189.1 574.7,188.8 576.3,188.9 577.8,188.6 579.4,188.9 580.9,188.6 582.5,188.6 584.0,188.7 585.5,188.4 587.1,188.3 588.6,188.5 590.0,188.3 591.5,188.0 593.0,187.9 594.4,188.0 595.8,187.7 597.2,188.1 598.6,187.6 600.3,187.6 601.9,187.5 603.5,187.4 605.1,187.2 606.7,187.1 608.2,186.9 609.8,186.6 611.3,186.3 612.8,186.6 614.3,186.4 615.8,186.0 617.3,186.2 618.8,186.4 620.3,186.6 621.8,186.2 623.2,186.4 624.6,186.8 626.1,186.9 627.6,187.4 629.1,187.5 630.6,187.4 632.3,187.6 634.0,187.8 635.3,188.1 636.6,187.8 638.0,187.9 639.4,187.8 640.9,188.1 642.4,187.9 643.9,188.4 645.4,188.2 647.0,188.2 648.6,188.0 650.1,188.1 651.7,188.2 653.3,188.4 654.9,188.3 656.6,188.2 658.2,188.5 659.8,188.4 661.3,188.3 662.9,188.2 664.5,188.3 666.0,188.6" fill="none" stroke="#00bf00" stroke-width="2.3" stroke-linejoin="round" stroke-linecap="butt"/>
<polyline points="422.1,27.3 423.7,28.2 425.3,28.9 427.0,29.4 428.6,30.3 430.3,31.1 431.7,31.7 433.2,32.2 434.6,32.5 436.1,33.1 437.6,33.9 439.1,34.4 440.6,35.0 442.1,36.1 443.6,36.4 445.1,37.4 446.6,38.2 448.1,38.5 449.5,39.7 450.9,40.2 452.4,41.1 453.9,42.0 455.4,42.9 456.8,44.2 458.2,45.1 459.5,46.5 460.6,47.5 461.7,48.3 462.8,49.6 463.7,50.8 464.7,51.8 465.5,53.1 466.3,54.4 467.1,55.9 467.8,57.1 468.4,58.4 468.9,59.9 469.4,61.6 469.8,63.2 470.1,64.7 470.3,66.8 470.6,68.5 470.7,70.0 470.9,71.4 471.0,72.7 471.1,74.6 471.2,76.1 471.2,77.8 471.3,79.5 471.3,81.1 471.4,82.7 471.4,84.1 471.5,85.9 471.6,87.6 471.6,88.9 471.6,90.3 471.7,91.6 471.7,93.3 471.7,94.7 471.7,96.1 471.8,98.2 471.8,100.2 471.8,101.0 471.8,102.4 471.9,103.3 471.9,104.3 471.9,105.9 471.9,107.0 472.0,108.6 472.0,109.9 472.0,111.1 472.0,112.8 472.1,114.5 472.1,115.8 472.1,117.4 472.2,119.2 472.2,120.6 472.2,122.3 472.3,124.0 472.3,125.8 472.3,127.2 472.4,128.8 472.4,130.8 472.4,132.4 472.5,134.0 472.5,136.0 472.5,137.7 472.6,139.2 472.6,141.1 472.6,142.6 472.7,144.2 472.7,145.6 472.7,147.0 472.8,148.9 472.8,150.5 472.9,151.8 472.9,153.3 472.9,154.7 473.0,156.0 473.0,157.5 473.1,159.2 473.1,160.9 473.2,162.5 473.2,164.5 473.3,166.2 473.3,168.1 473.4,169.6 473.4,171.4 473.5,173.0 473.5,174.8 473.6,176.5 473.6,177.9 473.7,179.4 473.7,181.1 473.8,182.4 473.9,184.0 473.9,185.1 474.0,186.4 474.1,187.8 474.1,189.1 474.2,190.2 474.4,192.0 474.5,193.6 474.7,195.0 474.8,196.5 475.0,197.9 475.1,199.9 475.2,201.1 475.6,202.8 476.5,203.9 478.0,204.8 479.1,204.9 480.6,205.3 482.3,204.7 484.1,204.7 486.0,204.4 487.9,203.9 489.7,203.8 491.4,204.0 493.3,204.0 495.1,204.2 496.9,204.4 498.7,204.2 500.3,204.6 501.7,204.5 504.0,203.7 505.8,202.8 506.7,202.0 507.5,200.5 508.3,199.3 508.9,197.4 509.3,196.4 509.6,194.8 509.9,193.4 510.1,191.8 510.4,190.5 510.7,188.9 511.0,187.3 511.4,185.8 511.9,184.0 512.3,182.6 512.8,180.8 513.4,179.4 514.0,178.0 514.9,176.2 515.9,174.4 517.0,172.9 518.2,172.0 519.5,170.8 520.8,170.3 522.3,169.8 523.7,170.0 525.2,170.2 526.8,170.6 528.5,170.8 530.0,170.9 531.5,171.5 533.2,171.9 534.9,172.3 536.7,172.3 538.4,172.7 540.0,173.5 541.5,173.9 543.0,174.3 544.5,175.0 545.9,175.3 547.4,176.1 549.1,176.6 550.8,177.1 552.2,177.1 553.7,177.3 555.2,177.7 556.9,178.0 558.5,177.8 560.2,177.9 562.0,178.0 563.7,178.5 565.4,178.4 567.0,178.6 568.6,179.0 570.2,179.0 571.6,179.0 573.3,179.5 574.9,179.4 576.4,179.9 577.9,180.4 579.4,180.5 580.9,180.7 582.4,181.3 584.0,181.5 585.6,182.1 587.2,182.0 588.8,182.6 590.4,182.7 592.0,183.2 593.7,183.3 595.3,183.7 597.0,183.8 598.6,184.0 600.2,184.3 601.8,184.6 603.4,184.5 604.9,184.6 606.5,184.8 608.1,184.7 609.8,185.0 611.5,185.2 613.2,185.3 614.7,185.5 616.2,185.4 617.7,185.4 619.2,185.5 620.7,185.8 622.3,185.9 623.9,186.2 625.5,186.2 627.1,186.5 628.8,186.6 630.5,186.7 632.2,186.8 634.0,186.8 635.4,186.8 636.8,186.8 638.2,186.7 639.7,187.1 641.1,187.0 642.6,186.9 644.2,187.3 645.7,187.2 647.2,187.2 648.8,187.1 650.4,187.0 651.9,187.5 653.5,187.1 655.1,187.2 656.7,187.5 658.2,187.1 659.8,187.3 661.4,187.3 662.9,187.2 664.5,187.6 666.0,187.4" fill="none" stroke="#0a55ea" stroke-width="2.3" stroke-linejoin="round" stroke-linecap="butt"/>
<polyline points="422.1,27.3 423.7,28.2 425.3,28.6 427.0,29.6 428.6,30.4 430.3,31.1 431.7,31.3 433.2,32.2 434.6,32.6 436.1,33.3 437.6,33.8 439.1,34.4 440.6,35.0 442.1,35.9 443.6,36.4 445.1,37.5 446.6,37.8 448.1,39.0 449.5,39.3 450.9,40.1 452.4,41.3 453.9,42.2 455.4,43.3 456.8,44.2 458.2,45.3 459.5,46.1 460.6,47.5 461.7,48.5 462.8,49.9 463.7,50.6 464.7,51.8 465.5,53.3 466.3,54.7 467.1,55.8 467.8,57.3 468.4,58.6 468.9,59.9 469.4,61.6 469.8,63.2 470.1,64.6 470.3,66.6 470.6,68.7 470.7,69.8 470.9,71.4 471.0,72.8 471.1,74.4 471.2,76.2 471.2,77.9 471.3,79.6 471.3,81.1 471.4,82.5 471.4,84.2 471.5,85.6 471.6,87.3 471.6,88.9 471.6,90.3 471.7,91.6 471.7,92.9 471.7,94.4 471.7,96.1 471.8,98.0 471.8,99.9 471.8,101.2 471.8,102.2 471.9,103.2 471.9,104.5 471.9,105.5 471.9,107.2 472.0,108.6 472.0,109.8 472.0,111.4 472.0,112.7 472.1,114.1 472.1,115.7 472.1,117.3 472.2,119.1 472.2,120.7 472.2,122.4 472.3,123.7 472.3,125.7 472.3,127.3 472.4,128.9 472.4,130.7 472.4,132.4 472.5,133.9 472.5,135.7 472.5,137.5 472.6,139.3 472.6,141.0 472.6,142.3 472.7,144.3 472.7,145.9 472.7,147.4 472.8,149.1 472.8,150.2 472.9,152.0 472.9,153.5 472.9,154.5 473.0,156.1 473.0,157.6 473.1,159.1 473.1,161.1 473.2,163.0 473.2,164.5 473.3,166.1 473.4,167.9 473.4,170.0 473.5,171.5 473.6,173.2 473.6,174.9 473.7,176.8 473.7,178.1 473.8,179.5 473.9,181.5 473.9,182.6 474.0,184.0 474.0,185.7 474.1,186.6 474.1,187.7 474.2,189.2 474.2,189.9 474.3,192.0 474.3,194.1 474.3,195.3 474.4,197.2 474.4,199.0 474.4,201.0 474.8,202.7 475.7,204.1 477.0,205.0 478.9,205.5 481.2,205.8 482.7,205.9 484.4,206.3 486.2,206.5 487.9,206.5 489.4,206.6 491.6,206.0 493.5,205.7 494.9,205.1 496.3,204.3 497.6,203.8 498.8,202.9 499.9,201.9 501.0,200.5 502.0,199.0 502.9,197.8 503.6,196.1 504.3,194.9 505.1,192.9 505.8,191.3 506.5,190.2 507.1,188.4 507.8,187.3 508.4,185.6 509.1,184.4 509.8,182.8 510.6,181.8 511.4,180.3 512.3,179.0 513.1,177.9 514.0,176.7 515.3,175.0 516.7,173.4 518.2,172.5 519.6,171.7 521.2,171.8 522.8,171.3 524.4,171.1 525.9,171.2 527.4,171.2 528.9,171.5 530.5,171.9 532.0,172.2 533.8,172.7 535.5,173.2 537.2,173.9 538.8,174.6 540.0,175.0 542.5,176.5 543.6,176.8 544.9,177.0 546.4,177.5 548.1,178.3 549.9,178.6 551.7,178.9 553.5,179.4 555.3,180.0 557.0,180.0 558.6,180.3 560.2,180.5 561.8,180.5 563.3,181.0 564.9,181.1 566.5,181.2 568.2,181.3 569.9,181.4 571.6,181.7 573.1,181.6 574.6,182.1 576.1,181.8 577.7,182.3 579.3,182.0 581.0,182.4 582.6,182.3 584.2,182.3 585.9,182.6 587.5,182.9 589.2,183.0 590.8,183.1 592.4,183.2 594.0,182.9 595.7,183.1 597.3,183.1 599.0,183.5 600.6,183.5 602.3,183.8 604.0,183.9 605.6,184.1 607.2,184.0 608.8,184.2 610.3,184.1 611.8,183.9 613.2,184.3 614.9,183.9 616.5,183.8 618.0,184.1 619.4,183.8 620.9,183.9 622.4,183.5 624.0,183.6 625.6,183.8 627.0,183.5 628.5,183.8 630.0,184.0 631.5,183.8 633.1,184.1 634.6,184.2 636.2,184.2 637.8,184.4 639.4,184.5 641.1,184.2 642.7,184.4 644.3,184.7 645.8,185.0 647.3,184.7 648.8,185.0 650.4,184.9 651.9,185.4 653.5,185.3 655.0,185.4 656.6,185.6 658.2,185.5 659.8,185.9 661.3,186.0 662.9,186.2 664.4,186.0 666.0,186.1" fill="none" stroke="#f42a00" stroke-width="2.3" stroke-linejoin="round" stroke-linecap="butt"/>
<polyline points="120.9,301.9 120.9,304.1 120.9,305.2 120.9,306.7 120.9,308.4 120.9,310.1 120.9,311.3 120.9,312.9 120.9,314.9 120.9,316.5 120.9,317.7 121.0,319.1 121.0,321.4 121.0,322.9 121.0,324.3 121.0,325.8 121.0,327.9 121.0,329.0 121.0,330.4 121.0,331.9 121.0,333.8 121.0,335.6 121.0,337.0 121.0,339.1 121.0,340.4 121.0,341.9 121.0,343.6 121.0,345.2 121.0,346.8 121.0,348.2 121.0,349.8 121.0,351.3 121.0,353.2 121.0,354.2 121.1,356.2 121.1,357.3 121.1,359.3 121.1,360.1 121.1,362.0 121.1,363.4 121.1,365.1 121.1,366.1 121.1,367.6 121.1,368.9 121.1,370.7 121.1,372.1 121.1,372.9 121.2,374.5 121.2,375.8 121.2,377.8 121.2,378.7 121.2,380.1 121.2,381.6 121.2,383.7 121.3,385.6 121.3,387.2 121.3,388.3 121.3,390.4 121.3,392.1 121.3,393.3 121.4,395.6 121.4,396.8 121.4,398.4 121.4,400.2 121.4,401.8 121.5,403.2 121.5,405.0 121.5,406.2 121.5,407.5 121.6,408.7 121.6,410.6 121.6,411.9 121.6,413.4 121.7,414.6 121.7,415.6 121.7,417.0 121.8,418.4 121.8,419.6 121.9,422.1 121.9,423.5 122.0,424.8 122.0,426.9 122.1,428.3 122.1,429.3 122.2,431.4 122.3,432.4 122.3,434.5 122.4,435.2 122.5,436.8 122.5,438.3 122.6,440.3 122.7,441.8 122.7,443.1 122.8,444.3 122.8,446.0 122.9,447.8 123.0,448.7 123.0,451.0 123.1,452.5 123.2,454.1 123.2,455.4 123.3,456.9 123.3,458.8 123.4,459.8 123.5,461.3 123.5,462.7 123.6,464.3 123.6,466.4 123.7,467.3 123.7,469.5 123.8,470.8 123.8,472.8 123.9,474.3 123.9,475.9 124.0,477.6 124.0,478.5 124.1,480.2 124.1,481.9 124.2,483.4 124.2,485.2 124.2,487.0 124.3,488.5 124.3,490.4 124.4,491.9 124.4,493.2 124.5,495.0 124.5,496.9 124.6,498.5 124.6,499.6 124.7,501.1 124.7,502.7 124.7,503.6 124.8,505.3 124.9,506.6 125.0,509.2 125.1,510.6 125.2,510.9 125.3,510.7 125.5,509.1 125.7,507.5 125.8,505.3 125.9,503.9 125.9,502.9 126.0,501.5 126.0,499.4 126.1,498.4 126.1,496.8 126.1,495.3 126.2,493.4 126.2,491.4 126.3,489.6 126.3,488.3 126.3,486.3 126.4,485.2 126.5,483.5 126.5,482.2 126.6,480.2 126.6,478.6 126.7,477.6 126.7,475.8 126.8,474.0 126.9,472.6 126.9,471.0 127.0,469.6 127.1,468.0 127.1,466.3 127.2,465.4 127.3,463.7 127.4,462.0 127.5,459.9 127.6,458.2 127.6,457.0 127.7,455.5 127.8,453.8 127.9,451.9 128.0,450.9 128.1,449.3 128.2,447.9 128.3,446.4 128.4,444.8 128.5,443.5 128.7,442.1 128.8,440.4 128.9,438.5 129.0,437.7 129.1,436.6 129.2,434.9 129.3,433.2 129.4,431.9 129.5,429.4 129.6,428.4 129.7,426.5 129.8,424.8 129.9,422.8 130.1,421.4 130.2,419.3 130.3,418.1 130.5,416.4 130.6,415.7 130.7,414.3 130.9,412.9 131.2,411.2 131.4,409.2 131.7,407.9 132.1,406.2 132.6,405.5 133.5,403.7 134.6,402.1 135.7,400.8 136.9,402.3 138.1,403.3 139.5,405.3 141.1,406.0 142.9,406.3 144.6,407.3 146.3,408.7 148.0,409.5 149.7,410.1 151.4,411.3 153.0,411.5 154.9,412.4 156.5,411.9 158.4,411.4 160.2,411.9 162.0,410.8 163.5,411.0 165.4,412.0 167.2,412.0 168.7,412.5 170.2,412.8 172.0,412.6 173.3,412.4 174.6,412.9 176.1,413.0 177.7,412.9 179.3,413.0 180.9,412.9 182.6,413.0 184.3,413.6 185.8,413.7 187.3,412.9 188.8,413.1 190.3,413.2 191.9,413.8 193.5,413.3 195.1,413.3 196.7,413.9 198.3,413.4 199.9,414.1 201.5,413.7 203.1,414.0 204.6,413.9 206.2,413.3 207.8,413.7 209.4,413.3 211.0,413.0 212.5,412.8 214.1,413.3 215.6,413.0 217.1,412.7 218.6,413.0 220.2,412.3 221.8,412.3 223.3,411.8 224.8,411.8 226.3,412.1 227.8,411.5 229.3,411.0 230.8,411.0 232.3,411.2 234.0,410.9 235.6,411.4 237.3,410.8 239.0,411.6 240.7,411.5 242.3,411.7 243.9,411.3 245.4,410.9 247.0,410.8 248.6,410.8 250.1,409.9 251.6,409.5 253.1,409.7 254.7,409.4 256.2,409.1 257.8,408.7 259.4,408.0 261.0,408.0 262.6,407.5 264.1,407.2 265.5,407.0 267.2,406.9 268.8,407.5 270.3,408.1 271.7,408.6 273.3,408.2 274.8,408.6 276.3,408.3 277.8,408.9 279.2,409.9 280.9,410.0 282.2,410.8 283.6,411.0 285.2,410.5 286.8,410.4 288.4,411.0 290.1,411.1 291.7,411.2 293.2,411.0 294.8,411.3 296.3,411.0 297.9,411.3 299.5,411.7 301.1,412.1 302.6,411.7 304.1,412.6 305.8,411.9 307.5,412.9 309.2,412.3 310.9,412.9 312.5,413.0 314.2,413.2" fill="none" stroke="#00bf00" stroke-width="2.3" stroke-linejoin="round" stroke-linecap="butt"/>
<polyline points="121.9,302.2 121.9,303.9 121.9,305.1 121.9,307.1 121.9,308.0 121.9,310.2 121.9,311.5 121.9,312.6 121.9,314.9 121.9,315.9 121.9,317.3 121.9,319.0 121.9,320.3 121.9,322.1 122.0,324.0 122.0,325.8 122.0,327.1 122.0,328.8 122.0,330.3 122.0,331.8 122.0,333.1 122.0,334.5 122.0,336.0 122.0,337.9 122.0,339.2 122.0,341.1 122.0,342.4 122.0,344.1 122.0,345.6 122.0,347.2 122.0,348.4 122.0,350.0 122.0,351.9 122.0,353.1 122.0,355.0 122.0,356.7 122.0,357.8 122.0,359.7 122.0,361.0 122.0,362.7 122.0,363.9 122.1,365.6 122.1,367.0 122.1,368.1 122.1,369.9 122.1,371.4 122.1,372.7 122.1,374.4 122.1,376.0 122.1,377.4 122.1,378.8 122.1,379.7 122.1,381.8 122.1,383.3 122.1,385.2 122.1,386.0 122.1,387.8 122.1,390.0 122.1,391.1 122.1,393.0 122.1,394.5 122.2,396.0 122.2,397.6 122.2,399.3 122.2,401.3 122.2,402.5 122.2,404.3 122.2,405.5 122.2,407.4 122.2,408.9 122.2,410.5 122.2,412.2 122.2,413.1 122.2,415.4 122.2,416.6 122.2,417.8 122.2,419.5 122.2,420.7 122.2,422.2 122.3,424.2 122.3,425.5 122.3,427.1 122.3,427.9 122.3,429.3 122.3,430.9 122.3,432.3 122.3,433.8 122.3,434.8 122.4,436.4 122.4,437.6 122.4,438.6 122.4,440.2 122.4,441.5 122.4,443.9 122.4,445.6 122.4,447.6 122.4,450.0 122.4,452.1 122.4,454.2 122.4,456.0 122.4,458.4 122.4,460.0 122.4,461.2 122.4,462.6 122.5,464.8 122.5,465.5 122.6,466.2 122.7,467.0 122.8,467.9 123.0,467.6 124.0,465.9 125.0,464.8 126.1,463.3 127.4,462.5 128.8,462.0 130.6,461.3 132.4,460.8 134.2,460.2 136.0,459.3 137.5,459.0 139.1,458.4 140.5,458.1 141.8,458.7 143.2,459.7 144.9,459.4 146.9,459.7 148.6,459.3 150.0,457.4 151.3,456.0 152.3,454.8 152.9,452.4 153.4,451.3 153.7,449.2 154.1,446.9 154.4,445.9 154.7,443.9 155.1,443.1 155.4,441.1 155.6,440.0 155.9,438.3 156.1,436.2 156.3,435.0 156.5,433.3 156.6,432.2 156.7,430.1 156.9,428.4 157.0,426.6 157.2,425.3 157.3,423.6 157.4,422.3 157.5,421.0 157.6,419.6 157.7,418.0 157.8,416.8 157.9,414.7 158.0,413.2 158.1,411.8 158.2,409.6 158.3,407.9 158.3,406.7 158.4,404.6 158.5,403.5 158.6,401.8 158.8,399.8 158.9,398.3 159.0,396.6 159.1,395.8 159.2,394.2 159.3,392.9 159.5,390.8 159.7,389.0 159.9,387.9 160.1,385.6 160.3,384.4 160.6,383.0 160.8,381.4 161.0,380.0 161.3,378.2 161.6,376.4 161.8,375.3 162.2,373.8 162.5,372.1 162.9,370.1 163.4,369.0 163.9,366.8 164.5,365.2 165.1,364.1 165.7,362.9 166.4,361.3 167.2,359.7 168.2,358.9 169.3,357.0 170.6,356.5 172.2,357.3 173.9,358.2 175.7,359.4 176.8,359.6 178.0,361.2 179.3,361.8 180.5,362.5 181.8,364.2 183.0,365.4 184.3,365.6 185.7,367.0 187.1,368.4 188.6,369.0 190.0,370.0 191.4,371.3 192.9,372.0 194.3,373.3 195.7,374.0 197.2,374.8 198.6,375.5 200.0,375.8 201.5,376.8 202.9,377.4 204.3,377.8 205.7,378.4 207.1,378.6 208.6,379.0 210.0,380.0 211.8,380.1 213.5,380.4 215.3,381.6 217.0,381.8 218.6,382.4 220.4,383.0 222.1,383.6 223.8,384.8 225.1,386.1 226.4,386.7 227.8,388.3 229.2,388.9 230.6,390.3 232.0,390.5 233.4,391.3 234.9,391.6 236.3,392.3 237.7,393.2 239.3,394.0 240.9,395.1 242.4,395.8 243.9,396.8 245.1,397.8 246.1,399.4 247.2,399.7 248.5,400.8 249.9,401.8 251.4,402.0 253.0,402.2 254.6,403.2 256.2,402.9 257.8,403.4 259.4,403.8 260.9,404.6 262.5,405.4 264.0,405.3 265.6,405.8 267.1,406.6 268.6,406.4 270.1,406.7 271.6,407.5 273.2,407.2 274.7,407.7 276.3,407.6 277.8,408.2 279.3,408.7 280.8,408.6 282.4,408.7 284.0,409.2 285.5,409.4 287.0,409.0 288.6,409.2 290.2,409.4 291.8,409.6 293.3,409.4 294.8,409.8 296.4,409.6 298.0,410.3 299.6,410.0 301.1,410.0 302.6,409.9 304.4,409.7 306.2,409.4 307.9,409.7 309.5,409.3 311.2,409.9 312.7,411.2 314.2,412.1" fill="none" stroke="#0a55ea" stroke-width="2.3" stroke-linejoin="round" stroke-linecap="butt"/>
<polyline points="122.0,302.4 122.0,303.5 122.0,305.1 122.0,306.8 122.0,308.2 122.0,309.8 122.0,311.3 122.0,312.9 122.0,314.9 122.0,316.4 122.1,317.8 122.1,319.4 122.1,321.2 122.1,322.8 122.1,323.8 122.1,326.2 122.1,327.4 122.1,328.9 122.1,331.1 122.1,332.5 122.1,333.8 122.1,335.1 122.1,337.1 122.1,338.7 122.1,340.2 122.1,341.5 122.1,343.6 122.1,344.9 122.1,346.9 122.1,348.3 122.1,349.6 122.1,351.6 122.2,352.8 122.2,354.1 122.2,355.8 122.2,357.1 122.2,358.9 122.2,360.9 122.2,362.4 122.2,363.6 122.2,364.6 122.2,366.1 122.2,367.5 122.2,369.1 122.2,370.8 122.2,371.6 122.3,373.4 122.3,374.7 122.3,376.2 122.3,377.7 122.3,378.6 122.3,380.1 122.3,381.6 122.3,383.5 122.3,385.4 122.4,386.6 122.4,388.6 122.4,390.3 122.4,391.6 122.4,393.3 122.4,395.4 122.4,396.6 122.4,398.0 122.5,399.6 122.5,401.3 122.5,402.7 122.5,404.2 122.5,405.6 122.5,407.0 122.6,408.7 122.6,410.2 122.6,411.2 122.6,413.1 122.7,414.2 122.7,416.2 122.7,417.6 122.8,418.3 122.8,420.2 122.8,421.5 122.9,423.0 122.9,425.3 123.0,427.0 123.1,428.5 123.1,430.0 123.2,432.0 123.2,433.2 123.3,434.9 123.4,436.4 123.4,438.1 123.5,439.6 123.6,440.5 123.7,441.8 123.7,443.5 123.8,444.8 123.9,445.9 124.0,447.5 124.2,449.4 124.3,451.1 124.5,452.7 124.7,454.4 124.9,455.4 125.0,457.2 125.2,457.7 125.7,460.4 126.2,462.4 127.0,464.1 128.3,464.9 130.6,466.2 132.5,465.9 134.3,465.9 136.0,465.7 138.7,467.3 140.0,465.6 141.2,463.4 142.0,462.4 142.9,460.8 143.8,459.1 144.6,457.3 145.1,456.2 145.7,454.3 146.2,453.0 146.6,452.0 147.1,449.8 147.6,448.3 148.0,447.5 148.6,445.4 149.1,443.9 149.6,442.3 150.1,440.7 150.6,438.4 150.9,437.5 151.1,435.4 151.4,434.7 151.6,432.7 151.9,431.3 152.1,429.4 152.3,428.2 152.5,426.2 152.7,424.8 153.0,422.9 153.2,421.8 153.4,420.2 153.7,418.0 153.9,416.9 154.2,415.3 154.4,413.0 154.6,411.4 154.9,410.4 155.1,408.9 155.3,406.7 155.5,405.8 155.7,404.7 156.0,402.0 156.3,400.6 156.6,398.5 156.9,397.2 157.2,395.3 157.5,393.8 157.9,391.9 158.3,390.7 158.7,389.4 159.1,387.6 159.5,385.9 160.0,384.3 160.5,382.9 161.0,382.0 161.5,380.2 162.0,378.9 162.4,377.3 162.9,375.2 163.3,373.9 163.8,372.9 164.3,371.4 164.9,370.2 165.4,368.9 166.2,367.2 167.0,365.9 167.9,364.8 168.9,363.3 170.5,362.0 172.2,361.5 174.0,361.0 175.7,361.5 177.5,362.5 179.2,363.2 180.3,364.0 181.5,364.8 182.6,366.1 183.7,367.3 184.9,368.5 186.0,369.9 187.1,370.1 188.3,371.3 189.4,372.1 190.5,373.9 191.7,374.6 192.9,375.6 194.3,376.8 195.7,377.1 197.1,378.9 198.6,379.4 200.1,380.6 201.5,381.4 202.9,382.7 204.3,383.4 205.7,384.4 207.1,385.4 208.6,386.8 210.0,387.5 211.4,388.0 212.8,389.0 214.3,389.9 215.7,390.4 217.1,391.2 218.6,392.0 220.3,392.4 222.0,393.0 223.7,393.0 225.5,393.8 227.2,394.2 228.9,394.1 230.7,393.9 232.4,394.2 234.2,395.0 235.8,395.1 237.5,394.9 239.0,394.3 240.6,394.1 242.3,393.7 243.7,394.3 245.2,394.9 246.7,394.6 248.3,395.4 250.0,396.1 251.6,396.4 253.2,396.6 254.7,396.8 256.3,397.7 257.9,398.3 259.5,398.7 261.1,398.7 262.6,399.3 264.1,399.6 265.5,399.3 267.2,399.4 268.8,398.7 270.3,398.0 271.8,397.4 273.2,398.0 274.8,398.6 276.2,398.8 277.7,399.8 279.4,400.7 280.7,400.8 282.2,401.4 283.7,400.8 285.3,401.1 287.0,400.9 288.6,400.7 290.2,401.1 291.7,400.8 293.3,401.2 294.9,401.6 296.5,401.8 298.1,402.0 299.6,403.2 301.1,403.4 302.6,403.5 304.3,403.8 305.9,404.2 307.5,404.2 308.9,404.2 310.3,404.8 312.3,405.3 314.2,404.7" fill="none" stroke="#f42a00" stroke-width="2.3" stroke-linejoin="round" stroke-linecap="butt"/>
<line x1="132.5" y1="20.8" x2="132.5" y2="29.5" stroke="#f0505a" stroke-width="1.0" stroke-dasharray="1.8 1.4"/>
<line x1="132.5" y1="29.5" x2="239.5" y2="29.5" stroke="#f0505a" stroke-width="1.0" stroke-dasharray="1.8 1.4"/>
<line x1="239.5" y1="22.0" x2="239.5" y2="198.5" stroke="#f0505a" stroke-width="1.0" stroke-dasharray="1.8 1.4"/>
<polygon points="239.5,204.1 236.8,198.1 242.2,198.1" fill="#ff1010"/>
<text x="185.9" y="27.6" font-size="13.6" fill="#ff0000" text-anchor="start" >SCR</text>
<line x1="138.5" y1="36.2" x2="138.5" y2="77.0" stroke="#4848f0" stroke-width="1.0" stroke-dasharray="1.8 1.4"/>
<line x1="138.5" y1="61.5" x2="231.5" y2="61.5" stroke="#4848f0" stroke-width="1.0" stroke-dasharray="1.8 1.4"/>
<line x1="231.5" y1="51.0" x2="231.5" y2="206.0" stroke="#4848f0" stroke-width="1.0" stroke-dasharray="1.8 1.4"/>
<polygon points="231.5,211.4 228.7,205.6 234.3,205.6" fill="#0000f0"/>
<text x="166.6" y="59.6" font-size="13.6" fill="#0000ff" text-anchor="start" >SCR</text>
<line x1="123.5" y1="107.3" x2="123.5" y2="158.0" stroke="#30c030" stroke-width="1.0" stroke-dasharray="1.8 1.4"/>
<line x1="123.5" y1="121.5" x2="164.5" y2="121.5" stroke="#30c030" stroke-width="1.0" stroke-dasharray="1.8 1.4"/>
<line x1="164.5" y1="105.0" x2="164.5" y2="178.5" stroke="#30c030" stroke-width="1.0" stroke-dasharray="1.8 1.4"/>
<polygon points="164.5,183.6 161.7,178.0 167.3,178.0" fill="#00b800"/>
<text x="169.7" y="91.7" font-size="13.6" fill="#00b000" text-anchor="start" >SCR</text>
<path d="M175.6,94 C175,99 170,101 165,101.8 C159,103 155.5,108 154.3,116" fill="none" stroke="#00bf00" stroke-width="0.9"/>
<circle cx="153.6" cy="117.1" r="2.8" fill="#00bf00"/>
<line x1="125.5" y1="512.5" x2="125.5" y2="536.0" stroke="#50cc50" stroke-width="1.0" stroke-dasharray="3 2"/>
<line x1="164.2" y1="412.0" x2="164.2" y2="536.0" stroke="#50cc50" stroke-width="1.0" stroke-dasharray="3 2"/>
<text x="130.0" y="534.5" font-size="15" fill="#10b010" text-anchor="start" >SCR</text>
<line x1="150.5" y1="458.0" x2="150.5" y2="478.5" stroke="#4a7ae8" stroke-width="1.0" stroke-dasharray="1.1 1.0"/>
<line x1="150.5" y1="470.5" x2="270.5" y2="470.5" stroke="#4a7ae8" stroke-width="1.0" stroke-dasharray="1.1 1.0"/>
<line x1="270.5" y1="407.0" x2="270.5" y2="478.8" stroke="#4a7ae8" stroke-width="1.0" stroke-dasharray="1.1 1.0"/>
<text x="191.5" y="483.8" font-size="15.4" fill="#1a64f0" text-anchor="start" >SCR</text>
<line x1="139.5" y1="469.0" x2="139.5" y2="508.3" stroke="#f05a50" stroke-width="1.0" stroke-dasharray="1.6 1.6"/>
<line x1="139.5" y1="499.5" x2="280.5" y2="499.5" stroke="#f05a50" stroke-width="1.0" stroke-dasharray="1.6 1.6"/>
<line x1="280.5" y1="401.0" x2="280.5" y2="508.3" stroke="#f05a50" stroke-width="1.0" stroke-dasharray="1.6 1.6"/>
<text x="191.5" y="512.3" font-size="15.4" fill="#ff2a10" text-anchor="start" >SCR</text>
</g>
</svg>
</body></html>
